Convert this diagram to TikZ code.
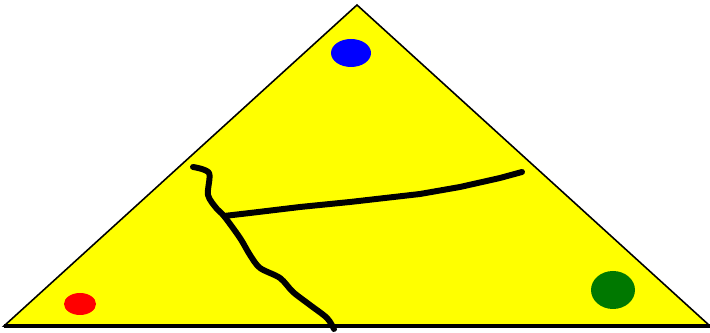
\documentclass[tikz,border=0pt]{standalone}
\usepackage{tikz}
\definecolor{lemon}{rgb}{1,1,0}
\definecolor{dotgreen}{rgb}{0,0.47,0}
\begin{document}
\begin{tikzpicture}[
    x=0.02cm, y=-0.02cm,
    face/.style={fill=lemon, draw=black, line width=0.9pt, line join=miter},
    base/.style={draw=black, line width=2.3pt},
    crack/.style={draw=black, line width=3.4pt, line join=round, line cap=round},
    dot/.style={draw=none}
]
\useasboundingbox (0,0) rectangle (710,333);

\coordinate (L) at (4,326);
\coordinate (R) at (710,326);
\coordinate (T) at (357,5);
\filldraw[face] (L) -- (T) -- (R) -- cycle;
\draw[base] (L) -- (R);

% dots
\fill[dot, blue] (351,53) ellipse (20 and 14);
\fill[dot, red] (80,304) ellipse (16 and 11);
\fill[dot, dotgreen] (613,290) ellipse (22 and 19);

% cracks
\coordinate (J) at (224,216);
\draw[crack] plot[smooth, tension=0.5] coordinates {
  (193,167) (209,173) (208,195) (217,209) (J) (240,238) (250,255)
  (260,268) (280,278) (293,292) (310,305) (327,318) (334,329)};
\draw[crack] (J) -- (250,213) -- (300,207) -- (350,202) -- (420,194)
  -- (460,187) -- (500,178) -- (522,172);
\end{tikzpicture}
\end{document}
